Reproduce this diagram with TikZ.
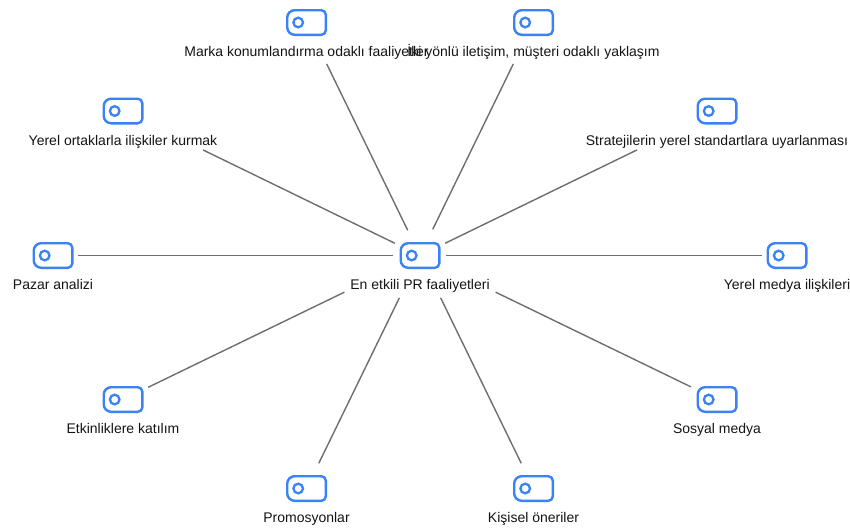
\documentclass[tikz,border=0pt]{standalone}
\usepackage{fontspec}
\setmainfont{Liberation Sans}
\definecolor{iconblue}{RGB}{59,130,246}
\definecolor{linegray}{RGB}{110,110,110}
\definecolor{txt}{RGB}{20,20,20}
\tikzset{
  conn/.style={draw=linegray, line width=1.4pt},
  iconline/.style={draw=iconblue, line width=2.4pt},
  lbl/.style={anchor=base, inner sep=0pt, text=txt, font=\fontsize{14}{17}\selectfont},
  hub/.style={shape=coordinate}
}
\begin{document}
\begin{tikzpicture}[x=1pt,y=-1pt]
\useasboundingbox (0,0) rectangle (850,530);
% icon centres
\node[hub] (c)  at (420,255.5) {};
\node[hub] (n0) at (787,255.5) {};
\node[hub] (n1) at (717,111) {};
\node[hub] (n2) at (533.5,22.5) {};
\node[hub] (n3) at (306.5,22.5) {};
\node[hub] (n4) at (123,111) {};
\node[hub] (n5) at (53,255.5) {};
\node[hub] (n6) at (123,399.5) {};
\node[hub] (n7) at (306.5,488.5) {};
\node[hub] (n8) at (533.5,488.5) {};
\node[hub] (n9) at (717,399.5) {};
% connectors
\draw[conn, shorten <=26pt, shorten >=25pt] (c) -- (n0);
\draw[conn, shorten <=28pt, shorten >=89pt] (c) -- (n1);
\draw[conn, shorten <=29pt, shorten >=46pt] (c) -- (n2);
\draw[conn, shorten <=28pt, shorten >=46pt] (c) -- (n3);
\draw[conn, shorten <=28pt, shorten >=89pt] (c) -- (n4);
\draw[conn, shorten <=27pt, shorten >=25pt] (c) -- (n5);
\draw[conn, shorten <=84pt, shorten >=28pt] (c) -- (n6);
\draw[conn, shorten <=47pt, shorten >=28pt] (c) -- (n7);
\draw[conn, shorten <=47pt, shorten >=28pt] (c) -- (n8);
\draw[conn, shorten <=84pt, shorten >=29pt] (c) -- (n9);
% icons
\foreach \n in {c,n0,n1,n2,n3,n4,n5,n6,n7,n8,n9}{
  \draw[iconline] ([yshift=-12.3pt]\n.center) [rounded corners=4.5pt] -- ++(19.3,0) -- ++(0,-24.6) -- ++(-19.3,0) [rounded corners=7.5pt] -- ++(-19.3,0) -- ++(0,24.6) -- cycle;
  \draw[iconline, line width=2.3pt] ([xshift=-8.3pt]\n.center) circle (4.8pt);
}
% labels
\node[lbl] (lc) at (420,289.5) {En etkili PR faaliyetleri};
\node[lbl] (l0) at (787,289.5) {Yerel medya ilişkileri};
\node[lbl] (l1) at (717,145) {Stratejilerin yerel standartlara uyarlanması};
\node[lbl] (l3) at (306.5,56.5) {Marka konumlandırma odaklı faaliyetler};
\node[lbl] (l2) at (533.5,56.5) {İki yönlü iletişim, müşteri odaklı yaklaşım};
\node[lbl] (l4) at (123,145) {Yerel ortaklarla ilişkiler kurmak};
\node[lbl] (l5) at (53,289.5) {Pazar analizi};
\node[lbl] (l6) at (123,433.5) {Etkinliklere katılım};
\node[lbl] (l7) at (306.5,522.5) {Promosyonlar};
\node[lbl] (l8) at (533.5,522.5) {Kişisel öneriler};
\node[lbl] (l9) at (717,433.5) {Sosyal medya};
\end{tikzpicture}
\end{document}
